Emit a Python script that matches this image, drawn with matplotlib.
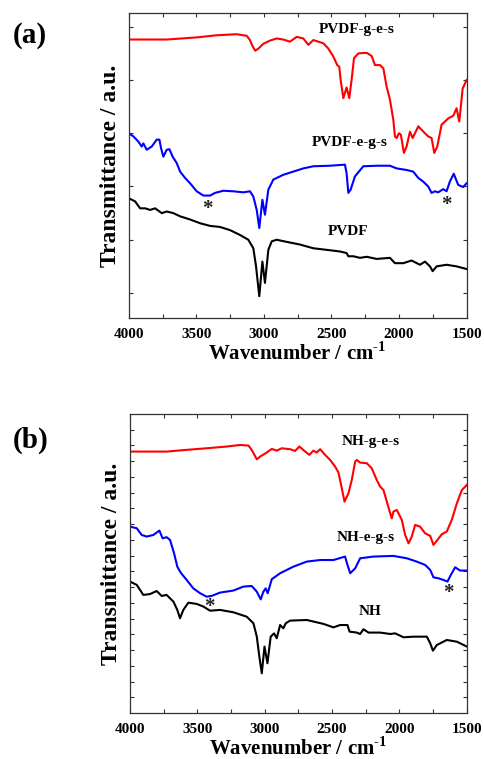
import numpy as np
import matplotlib
matplotlib.use('Agg')
import matplotlib.pyplot as plt
from matplotlib.ticker import MultipleLocator, FixedLocator

plt.rcParams['font.family'] = 'Liberation Serif'
plt.rcParams['font.weight'] = 'bold'
plt.rcParams['mathtext.fontset'] = 'custom'
plt.rcParams['mathtext.rm'] = 'Liberation Serif:bold'
plt.rcParams['mathtext.bf'] = 'Liberation Serif:bold'

# ---- panel (a): PVDF series (wavenumber, transmittance offset units)
a_red_x = [4000, 3719, 3497, 3349, 3201, 3127, 3103, 3083, 3063, 3041, 3004, 2955, 2905, 2856,
           2807, 2757, 2708, 2671, 2634, 2597, 2560, 2523, 2486, 2457, 2442, 2432, 2412, 2388,
           2368, 2351, 2333, 2301, 2239, 2202, 2178, 2141, 2116, 2092, 2067, 2042, 2030, 2018,
           2000, 1986, 1964, 1944, 1919, 1899, 1857, 1820, 1784, 1759, 1739, 1717, 1685, 1635,
           1598, 1574, 1554, 1529, 1500]
a_red_y = [4.76, 4.76, 4.80, 4.84, 4.86, 4.83, 4.75, 4.63, 4.55, 4.59, 4.68, 4.74, 4.78, 4.76,
           4.72, 4.81, 4.78, 4.66, 4.75, 4.72, 4.69, 4.59, 4.44, 4.28, 4.25, 4.00, 3.66, 3.86,
           3.66, 4.00, 4.41, 4.50, 4.51, 4.45, 4.28, 4.28, 4.22, 3.88, 3.63, 3.25, 2.94, 2.91,
           3.00, 2.97, 2.63, 2.75, 3.03, 2.91, 3.13, 3.03, 2.94, 2.91, 2.63, 2.75, 3.16, 3.28,
           3.33, 3.47, 3.22, 3.84, 4.00]

a_blue_x = [4000, 3965, 3928, 3904, 3892, 3867, 3830, 3793, 3773, 3761, 3744, 3719, 3699, 3675,
            3645, 3620, 3583, 3546, 3497, 3448, 3398, 3361, 3300, 3226, 3152, 3103, 3078, 3053,
            3034, 3011, 2992, 2967, 2930, 2856, 2782, 2708, 2634, 2511, 2400, 2388, 2375, 2358,
            2326, 2264, 2166, 2067, 2018, 1944, 1895, 1857, 1820, 1784, 1759, 1734, 1710, 1673,
            1648, 1624, 1595, 1562, 1525, 1500]
a_blue_y = [3.00, 2.94, 2.84, 2.75, 2.81, 2.69, 2.75, 2.88, 2.88, 2.72, 2.56, 2.69, 2.70, 2.56,
            2.44, 2.28, 2.16, 2.06, 1.91, 1.83, 1.83, 1.88, 1.92, 1.91, 1.89, 1.91, 1.81, 1.56,
            1.22, 1.75, 1.47, 1.94, 2.13, 2.22, 2.28, 2.34, 2.38, 2.39, 2.41, 2.25, 1.88, 1.94,
            2.19, 2.38, 2.39, 2.39, 2.34, 2.31, 2.28, 2.16, 2.09, 2.00, 1.88, 1.91, 1.89, 1.95,
            1.91, 2.09, 2.24, 2.03, 1.99, 2.06]

a_black_x = [4000, 3953, 3916, 3879, 3842, 3805, 3756, 3719, 3670, 3620, 3546, 3472, 3398, 3324,
             3250, 3177, 3115, 3078, 3058, 3034, 3011, 2992, 2967, 2942, 2905, 2831, 2733, 2634,
             2535, 2437, 2388, 2375, 2338, 2289, 2239, 2166, 2067, 2030, 1968, 1907, 1845, 1808,
             1771, 1751, 1722, 1648, 1574, 1500]
a_black_y = [1.78, 1.72, 1.59, 1.59, 1.56, 1.59, 1.50, 1.53, 1.50, 1.44, 1.38, 1.31, 1.26, 1.24,
             1.18, 1.09, 1.00, 0.84, 0.50, -0.06, 0.59, 0.19, 0.81, 0.97, 1.00, 0.96, 0.91, 0.84,
             0.81, 0.78, 0.75, 0.69, 0.69, 0.66, 0.68, 0.64, 0.66, 0.56, 0.56, 0.61, 0.53, 0.59,
             0.50, 0.41, 0.50, 0.53, 0.50, 0.45]

# ---- panel (b): NH series
b_red_x = [4000, 3728, 3579, 3431, 3282, 3183, 3121, 3097, 3059, 3035, 2985, 2948, 2911, 2874,
           2812, 2775, 2743, 2708, 2669, 2639, 2614, 2589, 2552, 2515, 2478, 2453, 2436, 2408,
           2379, 2354, 2329, 2317, 2292, 2243, 2206, 2169, 2144, 2119, 2094, 2069, 2057, 2045,
           2020, 1983, 1958, 1933, 1909, 1884, 1847, 1810, 1772, 1748, 1718, 1686, 1649, 1612,
           1574, 1537, 1500]
b_red_y = [16.61, 16.61, 16.72, 16.82, 16.93, 17.03, 16.99, 16.72, 16.12, 16.29, 16.55, 16.78,
           16.67, 16.82, 16.76, 16.65, 16.93, 16.67, 16.40, 16.67, 16.55, 16.76, 16.40, 16.08,
           15.66, 15.28, 14.60, 13.43, 13.96, 14.81, 15.97, 16.08, 15.91, 15.87, 15.55, 14.81,
           14.39, 14.17, 13.43, 12.69, 12.37, 12.80, 12.90, 12.27, 11.31, 10.78, 11.21, 11.95,
           11.84, 11.42, 11.25, 10.68, 11.00, 11.36, 11.53, 12.27, 13.33, 14.17, 14.49]

b_blue_x = [4000, 3950, 3913, 3876, 3827, 3782, 3758, 3728, 3703, 3673, 3649, 3624, 3579, 3530,
            3480, 3431, 3394, 3332, 3233, 3159, 3097, 3059, 3030, 3010, 2993, 2978, 2948, 2886,
            2787, 2688, 2589, 2490, 2404, 2386, 2366, 2329, 2292, 2193, 2045, 1946, 1872, 1810,
            1772, 1748, 1711, 1673, 1644, 1619, 1587, 1550, 1500]
b_blue_y = [11.84, 11.74, 11.31, 11.21, 11.31, 11.59, 11.10, 11.17, 11.00, 10.15, 9.30, 8.92,
            8.45, 7.92, 7.61, 7.39, 7.44, 7.65, 7.78, 8.03, 8.07, 7.71, 7.22, 7.71, 7.92, 7.61,
            8.50, 8.88, 9.30, 9.62, 9.72, 9.72, 9.94, 9.41, 8.88, 9.19, 9.83, 9.94, 9.98, 9.83,
            9.62, 9.41, 9.09, 8.62, 8.56, 8.45, 8.35, 8.77, 9.26, 9.05, 9.05]

b_black_x = [4000, 3950, 3901, 3851, 3802, 3765, 3728, 3678, 3649, 3629, 3604, 3567, 3505, 3455,
             3406, 3332, 3233, 3134, 3084, 3059, 3040, 3022, 3002, 2980, 2956, 2931, 2911, 2886,
             2862, 2844, 2812, 2688, 2564, 2490, 2441, 2386, 2371, 2317, 2292, 2268, 2230, 2144,
             2069, 2032, 1970, 1896, 1797, 1772, 1752, 1723, 1649, 1574, 1500]
b_black_y = [8.35, 8.14, 7.50, 7.56, 7.75, 7.44, 7.50, 7.08, 6.55, 6.02, 6.55, 7.01, 6.93, 6.76,
             6.50, 6.55, 6.40, 6.12, 5.70, 4.85, 3.58, 2.52, 4.22, 3.16, 4.85, 5.06, 4.75, 5.59,
             5.38, 5.70, 5.87, 5.91, 5.66, 5.44, 5.59, 5.59, 5.17, 5.11, 5.02, 5.32, 5.11, 5.11,
             5.02, 5.06, 4.81, 4.85, 4.85, 4.43, 3.96, 4.32, 4.64, 4.53, 4.22]

a_labels = ['PVDF-g-e-s', 'PVDF-e-g-s', 'PVDF']
a_label_pos = [(2315, 4.94), (2367, 2.82), (2378, 1.15)]
a_star_pos = [(3421, 1.58), (1646, 1.66)]
b_labels = ['NH-g-e-s', 'NH-e-g-s', 'NH']
b_label_pos = [(2211, 17.28), (2248, 11.12), (2218, 6.48)]
b_star_pos = [(3413, 6.75), (1639, 7.64)]

fig = plt.figure(figsize=(4.84, 7.59), dpi=100)
ax_a = fig.add_axes([0.266, 0.581, 0.698, 0.402])
ax_b = fig.add_axes([0.2686, 0.0606, 0.696, 0.394])


def style_axis(ax, yticks, ylim):
    ax.set_xlim(4000, 1500)
    ax.set_ylim(*ylim)
    ax.xaxis.set_major_locator(MultipleLocator(500))
    ax.xaxis.set_minor_locator(MultipleLocator(250))
    ax.yaxis.set_major_locator(FixedLocator(yticks))
    ax.set_yticklabels([])
    ax.tick_params(which='both', direction='in', top=True, right=True, length=3,
                   width=0.8, color='#333333')
    ax.tick_params(axis='x', labelsize=11, pad=7)
    for sp in ax.spines.values():
        sp.set_linewidth(0.9)
        sp.set_color('#333333')
    for lab in ax.get_xticklabels():
        lab.set_fontweight('bold')
    ax.set_xlabel(r'Wavenumber / cm$^{\text{-}\mathbf{1}}$', fontsize=15, fontweight='bold',
                  labelpad=1)
    ax.set_ylabel('Transmittance / a.u.', fontsize=17, fontweight='bold', labelpad=2)


# panel (a)
ax_a.plot(a_red_x, a_red_y, color='#ff0000', lw=1.5)
ax_a.plot(a_blue_x, a_blue_y, color='#0000ff', lw=1.5)
ax_a.plot(a_black_x, a_black_y, color='black', lw=1.5)
style_axis(ax_a, list(range(0, 6)), (-0.47, 5.26))
for lab, (x, y) in zip(a_labels, a_label_pos):
    ax_a.text(x, y, lab, fontsize=11, fontweight='bold', ha='center', va='center')
for x, y in a_star_pos:
    ax_a.text(x, y, '*', fontsize=15, fontweight='bold', ha='center', va='center',
              color='#222222')

# panel (b)
ax_b.plot(b_red_x, b_red_y, color='#ff0000', lw=1.5)
ax_b.plot(b_blue_x, b_blue_y, color='#0000ff', lw=1.5)
ax_b.plot(b_black_x, b_black_y, color='black', lw=1.5)
style_axis(ax_b, list(range(1, 19)), (0, 19))
for lab, (x, y) in zip(b_labels, b_label_pos):
    ax_b.text(x, y, lab, fontsize=11, fontweight='bold', ha='center', va='center')
for x, y in b_star_pos:
    ax_b.text(x, y, '*', fontsize=15, fontweight='bold', ha='center', va='center',
              color='#222222')

fig.text(0.061, 0.953, '(a)', fontsize=21, fontweight='bold', ha='center', va='center')
fig.text(0.063, 0.4196, '(b)', fontsize=21, fontweight='bold', ha='center', va='center')

fig.savefig('out.png', dpi=100)
